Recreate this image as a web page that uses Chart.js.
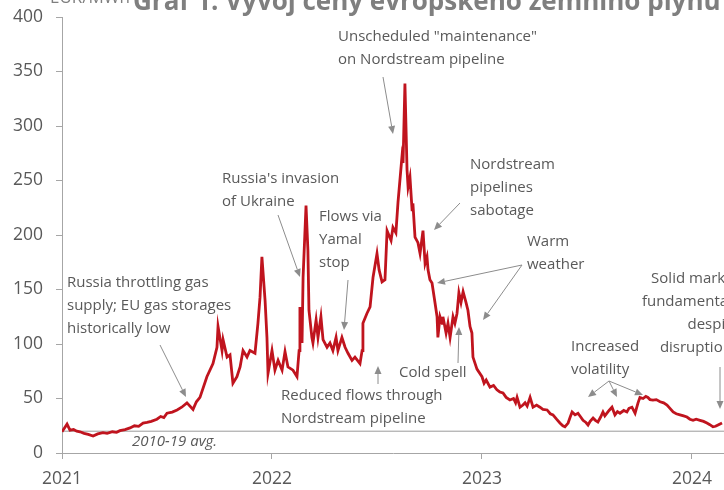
<!DOCTYPE html>
<html><head><meta charset="utf-8">
<script src="https://cdn.jsdelivr.net/npm/chart.js@4/dist/chart.umd.min.js"></script>
<style>html,body{margin:0;padding:0;background:#fff;overflow:hidden}#wrap{position:relative;width:724px;height:490px}</style>
</head><body><div id="wrap"><canvas id="c" width="724" height="490"></canvas></div>
<script>
// ---- data (decimal years, EUR/MWh) ----
const years = [
 2021.000,2021.024,2021.038,2021.055,2021.070,2021.086,2021.105,2021.125,2021.148,2021.170,2021.195,2021.215,2021.240,2021.260,2021.276,2021.300,2021.324,2021.345,2021.365,2021.386,2021.405,2021.425,2021.452,2021.470,2021.485,2021.500,2021.525,2021.548,2021.570,2021.595,2021.624,2021.640,2021.657,2021.690,2021.719,2021.738,2021.743,2021.762,2021.767,2021.786,2021.800,2021.814,2021.833,2021.848,2021.862,2021.881,2021.895,2021.919,2021.933,2021.943,2021.952,2021.967,2021.976,2021.981,
 2022.000,2022.014,2022.029,2022.048,2022.062,2022.076,2022.100,2022.119,2022.129,2022.133,2022.143,2022.148,2022.162,2022.171,2022.176,2022.190,2022.195,2022.210,2022.219,2022.233,2022.243,2022.262,2022.276,2022.290,2022.305,2022.314,2022.333,2022.348,2022.362,2022.381,2022.395,2022.419,2022.429,2022.433,2022.452,2022.467,2022.481,2022.500,2022.510,2022.524,2022.538,2022.548,2022.567,2022.576,2022.590,2022.600,2022.619,2022.624,2022.633,2022.643,2022.648,2022.657,2022.667,2022.671,2022.681,2022.695,2022.705,2022.719,2022.729,2022.738,2022.743,2022.752,2022.762,2022.776,2022.786,2022.790,2022.800,2022.810,2022.814,2022.829,2022.838,2022.848,2022.862,2022.871,2022.881,2022.890,2022.900,2022.910,2022.924,2022.933,2022.943,2022.952,2022.957,2022.976,
 2023.000,2023.010,2023.020,2023.038,2023.055,2023.071,2023.085,2023.100,2023.115,2023.133,2023.150,2023.160,2023.167,2023.181,2023.195,2023.205,2023.215,2023.229,2023.243,2023.260,2023.276,2023.290,2023.310,2023.325,2023.338,2023.355,2023.371,2023.385,2023.395,2023.410,2023.420,2023.429,2023.443,2023.457,2023.470,2023.481,2023.495,2023.505,2023.515,2023.529,2023.540,2023.552,2023.565,2023.576,2023.585,2023.595,2023.605,2023.619,2023.633,2023.645,2023.657,2023.675,2023.690,2023.700,2023.714,2023.729,2023.743,2023.752,2023.767,2023.780,2023.790,2023.800,2023.814,2023.830,2023.848,2023.865,2023.881,2023.895,2023.910,2023.925,2023.943,2023.960,2023.976,2023.990,
 2024.005,2024.020,2024.038,2024.055,2024.071,2024.085,2024.100,2024.112,2024.124,2024.143
];
const prices = [
 19.5,26.5,21,21.5,20,19.5,18,17,15.6,17.5,18.6,18,19.5,19,20.5,21.5,23,25,24.5,27.5,28,29,31,33.5,32.5,36.5,37.5,39.5,42,46,40,47,51,70,82,97,116,94,104,88,90,64,70,79,94,88,94,91.5,119,143,180,140,106,73,
 94,76,85,76,93,79,76,70,94,134,101,161,227,186,131,106,101,122,106,125,104,97,101,94,106,94,106,97,91.5,85,88,82,94,119,128,134,161,183,168,157,159,204,195,207,202,230,272,266,339,260,244,253,223,229,198,193,183,204,174,180,168,159,156,138,125,106,125,119,125,110,119,106,125,119,128,147,138,148,138,131,116,110,88,77,
 70,64,67,60.5,62,58,56,55,51,48.6,50,46,51,42,44,46,43,51,42,44,42,40,39.5,36,35,31,27.5,25,24,27.5,33,37.6,35,36.5,33,30,28,25.7,29,32,30,28.4,33,37.6,34,36.5,39,42,35,38,36.5,39,37.6,41,42,36.5,46,51,50,52,51,49,48.6,49,47,46,44,41,37.6,36,35,34,33,31,
 30,31,30,29,27.5,26,24,24.5,25.7,27.5
];
const avgLevel = 20;          // 2010-19 average
const avgLabel = '2010-19 avg.';
const xTickLabels = ['2021','2022','2023','2024'];
const yTickValues = [0,50,100,150,200,250,300,350,400];
const titleText = 'Graf 1: Vývoj ceny evropského zemního plynu';
const unitText = 'EUR/MWh';

// ---- annotations (layout) ----
const notes = [
 {lines:['Russia throttling gas','supply; EU gas storages','historically low'], x:67, y:283, align:'left'},
 {lines:["Russia's invasion",'of Ukraine'], x:222, y:179, align:'left'},
 {lines:['Flows via','Yamal','stop'], x:319, y:217, align:'left'},
 {lines:['Unscheduled "maintenance"','on Nordstream pipeline'], x:338, y:37, align:'left'},
 {lines:['Nordstream','pipelines','sabotage'], x:470, y:165, align:'left'},
 {lines:['Warm','weather'], x:527, y:242, align:'left'},
 {lines:['Cold spell'], x:399, y:373, align:'left'},
 {lines:['Reduced flows through','Nordstream pipeline'], x:281, y:396, align:'left'},
 {lines:['Increased','volatility'], x:571, y:347, align:'left'},
 {lines:['Solid market','fundamentals','despite','disruptions'], x:739, y:279, align:'right'}
];
const arrowSegs = [
 [160,345,186,397],[278,215,300,277],[348,280,344,330],[383,77,393,134],
 [460,203,434,230],[522,265,437,283],[522,265,483,320],[458,363,459,327],
 [378,384,378,366],[609,381,588,397],[609,381,617,397],[609,381,643,395],[720,367,720,409]
];

const GRAY='#595959', ARROW='#8c8c8c', AXIS='#a6a6a6', RED='#c0141e';
const FONT='"Open Sans", sans-serif';

const annotate = {
 id:'annotate',
 afterDraw(chart){
  const ctx=chart.ctx; ctx.save();
  // title (partly cut off at top)
  ctx.fillStyle='#7f7f7f'; ctx.font='bold 26px '+FONT; ctx.textBaseline='alphabetic'; ctx.textAlign='left';
  ctx.fillText(titleText,133,10);
  ctx.font='17px '+FONT; ctx.fillText(unitText,50,3);
  // notes
  ctx.fillStyle=GRAY; ctx.font='15px '+FONT; ctx.textBaseline='middle';
  notes.forEach(n=>{ctx.textAlign=n.align; n.lines.forEach((l,i)=>ctx.fillText(l,n.x,n.y+i*23));});
  // avg label
  ctx.font='italic 15px '+FONT; ctx.textAlign='left';
  ctx.fillText(avgLabel,132,442);
  // arrows
  ctx.strokeStyle=ARROW; ctx.fillStyle=ARROW; ctx.lineWidth=1;
  arrowSegs.forEach(([x1,y1,x2,y2])=>{
   const a=Math.atan2(y2-y1,x2-x1), L=8, W=3.5;
   const bx=x2-L*Math.cos(a), by=y2-L*Math.sin(a);
   ctx.beginPath(); ctx.moveTo(x1,y1); ctx.lineTo(bx,by); ctx.stroke();
   ctx.beginPath(); ctx.moveTo(x2,y2);
   ctx.lineTo(bx+W*Math.sin(a),by-W*Math.cos(a));
   ctx.lineTo(bx-W*Math.sin(a),by+W*Math.cos(a)); ctx.closePath(); ctx.fill();
  });
  ctx.restore();
 }
};

const xMax = 2021 + (724-62)/210;
new Chart(document.getElementById('c'),{
 type:'line',
 data:{datasets:[
  {data:[{x:2021,y:avgLevel},{x:xMax,y:avgLevel}],borderColor:'#9a9a9a',borderWidth:1,pointRadius:0,order:2},
  {data:years.map((x,i)=>({x,y:prices[i]})),borderColor:RED,borderWidth:2.8,pointRadius:0,tension:0,order:1}
 ]},
 options:{
  responsive:false,animation:false,
  layout:{padding:{top:17,right:0,left:0,bottom:0}},
  plugins:{legend:{display:false},tooltip:{enabled:false}},
  scales:{
   x:{type:'linear',min:2021,max:xMax,
      afterFit(s){s.height=37;s.paddingLeft=0;s.paddingRight=0;},
      border:{display:true,color:AXIS,width:1},
      grid:{display:true,drawOnChartArea:false,drawTicks:true,tickLength:6,color:AXIS},
      ticks:{stepSize:1,includeBounds:false,color:GRAY,font:{family:FONT,size:17.5},padding:10,maxRotation:0,
        callback:(v)=>{const i=Math.round(v)-2021;return (Math.abs(v-Math.round(v))<1e-6 && xTickLabels[i]!==undefined)?xTickLabels[i]:'';}}},
   y:{min:0,max:400,
      afterFit(s){s.width=62;s.paddingTop=0;s.paddingBottom=0;},
      afterBuildTicks(s){s.ticks=yTickValues.map(v=>({value:v}));},
      border:{display:true,color:AXIS,width:1},
      grid:{display:true,drawOnChartArea:false,drawTicks:true,tickLength:6,color:AXIS},
      ticks:{color:GRAY,font:{family:FONT,size:17.5},padding:13}}
  }
 },
 plugins:[annotate]
});
</script></body></html>
